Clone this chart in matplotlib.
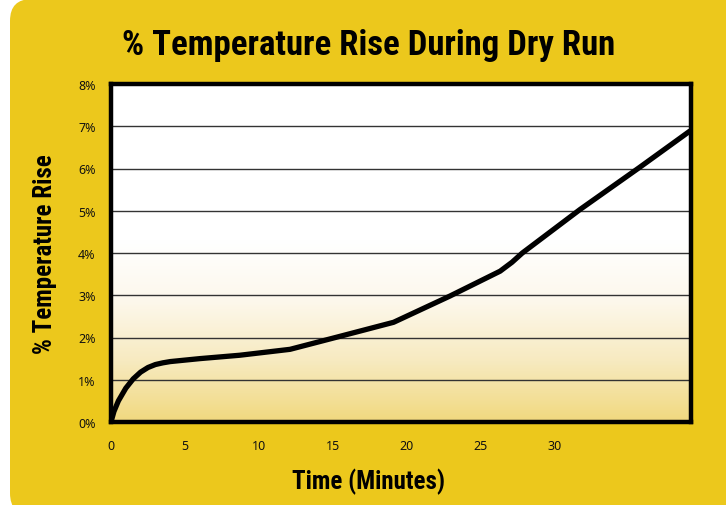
import numpy as np
import matplotlib
matplotlib.use('Agg')
import matplotlib.pyplot as plt
from matplotlib.patches import FancyBboxPatch
from matplotlib.colors import LinearSegmentedColormap

# data
time_min = [0, 0.2, 0.5, 1.0, 1.5, 2.0, 2.5, 3.0, 3.5, 4.0, 6.0, 8.7, 12.1, 15.5, 19.1,
            22.9, 26.3, 27.1, 27.8, 31.7, 35.7, 39.1]
temp_rise = [0, 0.25, 0.5, 0.8, 1.02, 1.18, 1.29, 1.36, 1.4, 1.43, 1.5, 1.58, 1.72, 2.03, 2.36,
             2.98, 3.57, 3.78, 4.0, 5.03, 6.02, 6.88]
x_ticks = [0, 5, 10, 15, 20, 25, 30]
y_ticks = [0, 1, 2, 3, 4, 5, 6, 7, 8]
y_tick_labels = ['%d%%' % v for v in y_ticks]

narrow = 'Roboto Condensed'
tick_font = 'Noto Sans'
yellow = '#ECC81C'

fig = plt.figure(figsize=(7.26, 5.06), dpi=100)
fig.patch.set_facecolor('white')

# rounded yellow panel behind everything
panel = FancyBboxPatch((10 / 726, -10 / 506), 730 / 726, 516 / 506,
                       boxstyle='round,pad=0,rounding_size=0.03',
                       transform=fig.transFigure, facecolor=yellow,
                       edgecolor='none', zorder=-5, mutation_aspect=726 / 506)
fig.patches.append(panel)

ax = fig.add_axes([111 / 726, 83 / 506, 580 / 726, 338 / 506])
ax.set_zorder(2)
ax.set_xlim(0, 39.2)
ax.set_ylim(0, 8)

# gradient fill: cream at the bottom fading to white around 4%
cmap = LinearSegmentedColormap.from_list('fade', ['#F1D97F', '#F7EAC0', '#FDF8EC', '#FFFFFF'])
grad = np.linspace(0, 1, 256).reshape(-1, 1)
grad = np.clip(grad / (4.3 / 8), 0, 1)
ax.imshow(grad, extent=[0, 39.2, 0, 8], origin='lower', aspect='auto',
          cmap=cmap, zorder=0)

for v in y_ticks[1:-1]:
    ax.axhline(v, color='#333333', lw=1.0, zorder=1)

ax.plot(time_min, temp_rise, color='black', lw=3.8, solid_capstyle='round',
        solid_joinstyle='round', zorder=3)

for s in ax.spines.values():
    s.set_linewidth(3.2)
    s.set_color('black')
    s.set_zorder(4)

ax.set_xticks(x_ticks)
ax.set_yticks(y_ticks)
ax.set_yticklabels(y_tick_labels)
ax.tick_params(length=0, labelsize=9, colors='#111111')
ax.tick_params(axis='x', pad=12)
ax.tick_params(axis='y', pad=11)
for lab in ax.get_xticklabels() + ax.get_yticklabels():
    lab.set_fontfamily(tick_font)

fig.text(368 / 726, 1 - 482 / 506, 'Time (Minutes)', ha='center', va='center',
         fontsize=18, fontweight='bold', family=narrow)
fig.text(45 / 726, 1 - 254 / 506, '% Temperature Rise', ha='center', va='center',
         rotation=90, fontsize=18, fontweight='bold', family=narrow)
fig.text(369 / 726, 1 - 45 / 506, '% Temperature Rise During Dry Run', ha='center', va='center',
         fontsize=25, fontweight='bold', family=narrow)

fig.savefig('out.png', dpi=100)
